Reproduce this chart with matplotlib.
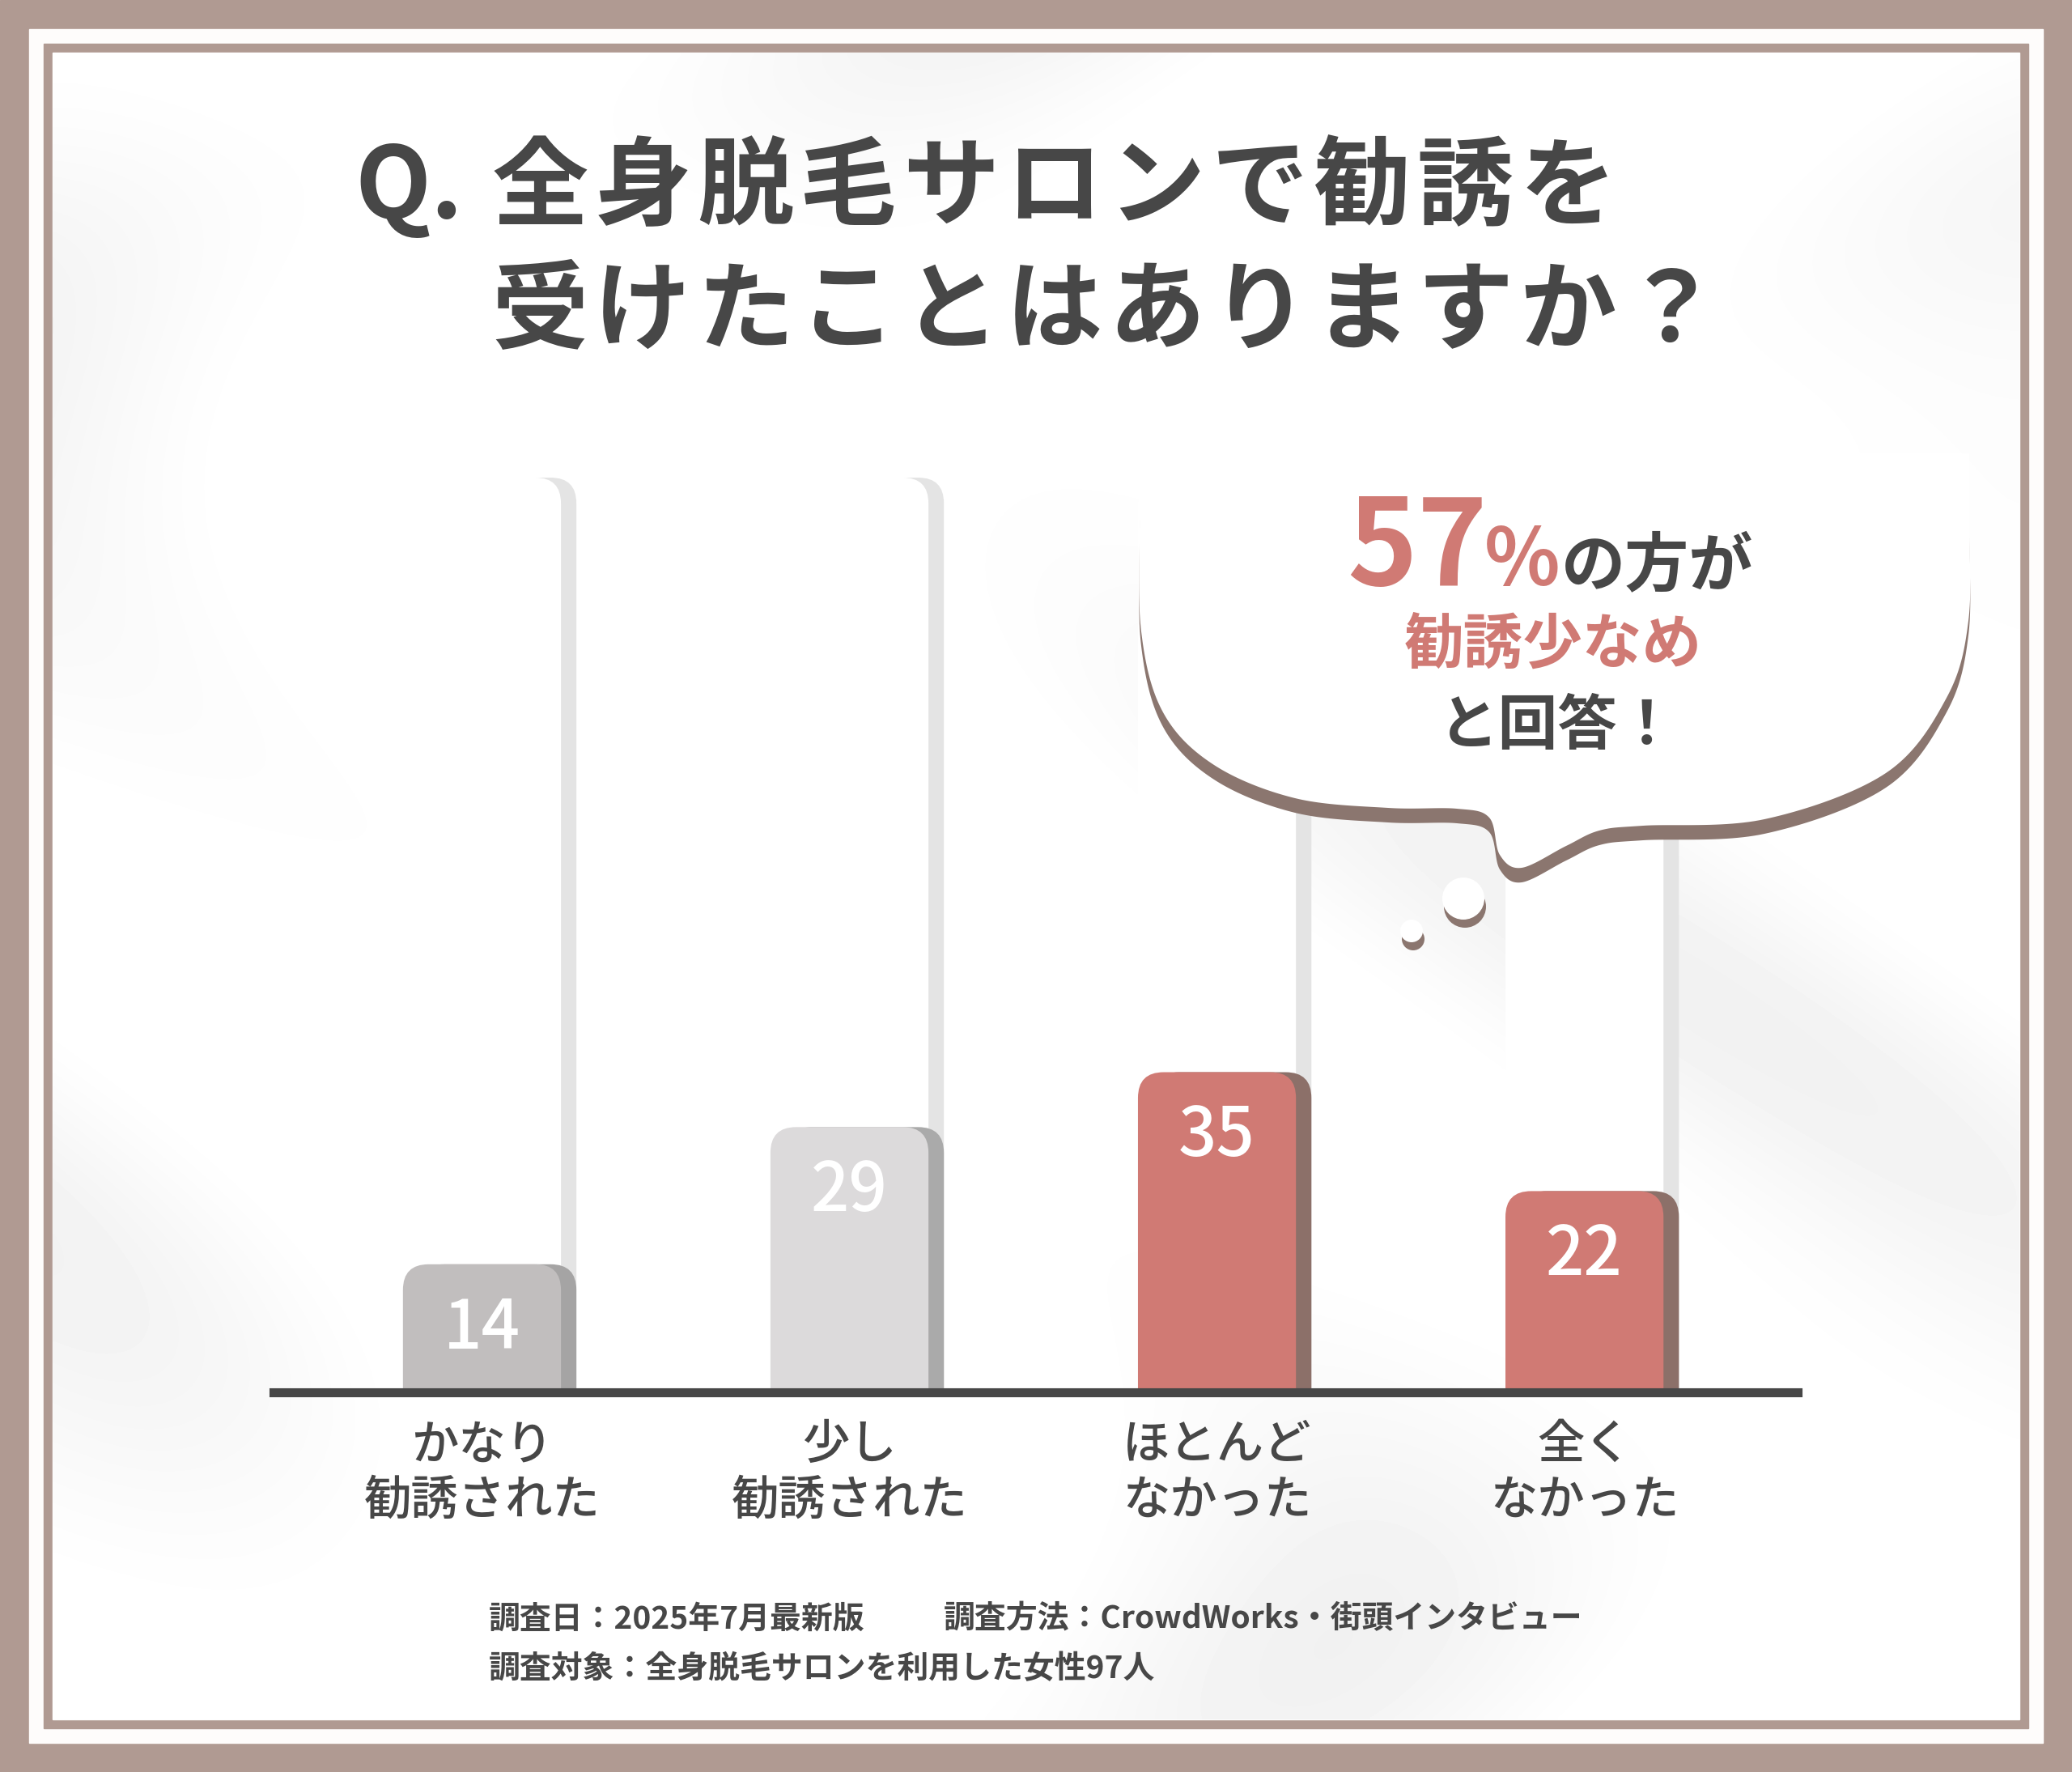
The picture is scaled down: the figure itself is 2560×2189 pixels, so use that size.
import numpy as np
import matplotlib
matplotlib.use("Agg")
import matplotlib.pyplot as plt
from matplotlib.patches import Rectangle, FancyBboxPatch, PathPatch, Circle
from matplotlib.path import Path

plt.rcParams['font.family'] = ['Noto Sans CJK JP', 'DejaVu Sans']

# data
categories = ['かなり\n勧誘された', '少し\n勧誘された', 'ほとんど\nなかった', '全く\nなかった']
values = [14, 29, 35, 22]
track_value = 100
face_colors = ['#c1bebe', '#dcdadb', '#d07a74', '#d07a74']
shade_colors = ['#a5a4a4', '#aaaaaa', '#8c7069', '#8c7069']

title_q = 'Q.'
title_1 = '全身脱毛サロンで勧誘を'
title_2 = '受けたことはありますか？'
note_1a = '調査日：2025年7月最新版'
note_1b = '調査方法：CrowdWorks・街頭インタビュー'
note_2 = '調査対象：全身脱毛サロンを利用した女性97人'

DARK = '#474747'
RED = '#d07a74'
BROWN = '#b09a92'

W, H = 2560, 2189
fig = plt.figure(figsize=(W / 100, H / 100), dpi=100)

# background / frame (pixel coordinates, y down)
bg = fig.add_axes([0, 0, 1, 1], zorder=0)
bg.set_xlim(0, W)
bg.set_ylim(H, 0)
bg.axis('off')
bg.add_patch(Rectangle((0, 0), W, H, color=BROWN))
bg.add_patch(Rectangle((36, 36), W - 72, H - 72, color='#fefcfb'))
bg.add_patch(Rectangle((54, 54), W - 108, H - 108, color=BROWN))
bg.add_patch(Rectangle((65, 65), W - 130, H - 130, color='#fdfdfd'))

# faint swirl texture, kept white around the top of the speech bubble
yy, xx = np.mgrid[65:H - 65:4, 65:W - 65:4]
z = np.sin(xx / 260 + 2.0 * np.sin(yy / 380)) * np.sin(yy / 310 - xx / 900)
calm = 1 - np.exp(-(((xx - 1950) / 950) ** 2 + ((yy - 540) / 320) ** 2))
shade = 1 - 0.055 * np.clip(z, 0, 1) ** 1.5 * calm
bg.imshow(shade, cmap='gray', vmin=0, vmax=1, extent=(65, W - 65, H - 65, 65),
          aspect='auto', interpolation='bilinear', zorder=1)

# chart axes
ax_l, ax_r = 338, 2221
base_y = 1720
px_per_unit = 11.3
y_top = 110
ax = fig.add_axes([ax_l / W, (H - base_y) / H, (ax_r - ax_l) / W, y_top * px_per_unit / H],
                  zorder=1)
ax.set_facecolor('none')
ax.set_xlim(-0.567, 3.58)
ax.set_ylim(0, y_top)

x_px = (ax_r - ax_l) / (3.58 + 0.567)
aspect = x_px / px_per_unit
bw = 0.43
off = 0.042
rad = 0.07


def rbar(x0, top, color, z):
    p = FancyBboxPatch((x0, -10), bw, top + 10,
                       boxstyle=f"round,pad=0,rounding_size={rad}",
                       mutation_aspect=aspect, fc=color, ec='none', zorder=z)
    ax.add_patch(p)


for i, v in enumerate(values):
    left = i - bw / 2
    rbar(left + off, track_value, '#e4e4e4', 1)
    rbar(left, track_value, '#ffffff', 2)
    rbar(left + off, v, shade_colors[i], 3)
    rbar(left, v, face_colors[i], 4)
    ax.text(i, v - 7.1, str(v), ha='center', va='center', color='white',
            fontsize=60, fontweight='medium', zorder=5)

for s in ['top', 'right', 'left']:
    ax.spines[s].set_visible(False)
ax.spines['bottom'].set_linewidth(8)
ax.spines['bottom'].set_color(DARK)
ax.spines['bottom'].set_zorder(6)
ax.set_yticks([])
ax.set_xticks(range(len(categories)))
ax.set_xticklabels(categories, fontsize=42, color=DARK, fontweight='medium', linespacing=1.2)
ax.tick_params(axis='x', length=0, pad=26)

# overlay: title, bubble, notes
ov = fig.add_axes([0, 0, 1, 1], zorder=2)
ov.set_xlim(0, W)
ov.set_ylim(H, 0)
ov.axis('off')

ov.text(438, 234, title_q, fontsize=88, fontweight='bold', color=DARK, va='center', ha='left')
step = 127
for row, line in [(234, title_1), (387, title_2)]:
    for k, ch in enumerate(line):
        ov.text(667 + k * step, row, ch, fontsize=86, fontweight='bold', color=DARK,
                va='center', ha='center')


def spline(pts, n=24):
    pts = np.asarray(pts, float)
    out = []
    for k in range(1, len(pts) - 2):
        p0, p1, p2, p3 = pts[k - 1], pts[k], pts[k + 1], pts[k + 2]
        t = np.linspace(0, 1, n, endpoint=False)[:, None]
        out.append(0.5 * ((2 * p1) + (-p0 + p2) * t + (2 * p0 - 5 * p1 + 4 * p2 - p3) * t ** 2
                          + (-p0 + 3 * p1 - 3 * p2 + p3) * t ** 3))
    out.append(pts[-2][None, :])
    return np.vstack(out)


cloud = [(2433, 500), (2433, 640), (2432, 767), (2405, 862), (2330, 955), (2180, 1012),
         (2030, 1020), (1976, 1026), (1935, 1045), (1880, 1072), (1853, 1056), (1840, 1010),
         (1800, 999), (1715, 998), (1600, 986), (1500, 945), (1437, 880), (1410, 780),
         (1408, 640), (1408, 500)]
outline = np.vstack([[2433, 560], spline(cloud), [1408, 560]])
ov.add_patch(PathPatch(Path(outline + [0, 18]), fc='#8b766f', ec='none'))
ov.add_patch(PathPatch(Path(outline), fc='white', ec='none'))
for cx, cy, r in [(1808, 1110, 26), (1744, 1150, 14)]:
    ov.add_patch(Circle((cx + 2, cy + 10), r, fc='#8b766f', ec='none'))
    ov.add_patch(Circle((cx, cy), r, fc='white', ec='none'))

ov.text(1664, 723, '57', fontsize=106, fontweight='bold', color=RED, ha='left', va='baseline')
ov.text(1834, 723, '%', fontsize=70, fontweight='bold', color=RED, ha='left', va='baseline')
ov.text(1929, 723, 'の方が', fontsize=57, fontweight='bold', color=DARK, ha='left', va='baseline')
ov.text(1919, 797, '勧誘少なめ', fontsize=53, fontweight='bold', color=RED, ha='center', va='center')
ov.text(1925, 898, 'と回答！', fontsize=53, fontweight='bold', color=DARK, ha='center', va='center')

ov.text(604, 2000, note_1a, fontsize=28, fontweight='bold', color=DARK, ha='left', va='center')
ov.text(1166, 2000, note_1b, fontsize=28, fontweight='bold', color=DARK, ha='left', va='center')
ov.text(604, 2062, note_2, fontsize=28, fontweight='bold', color=DARK, ha='left', va='center')

fig.savefig('out.png', dpi=100)
